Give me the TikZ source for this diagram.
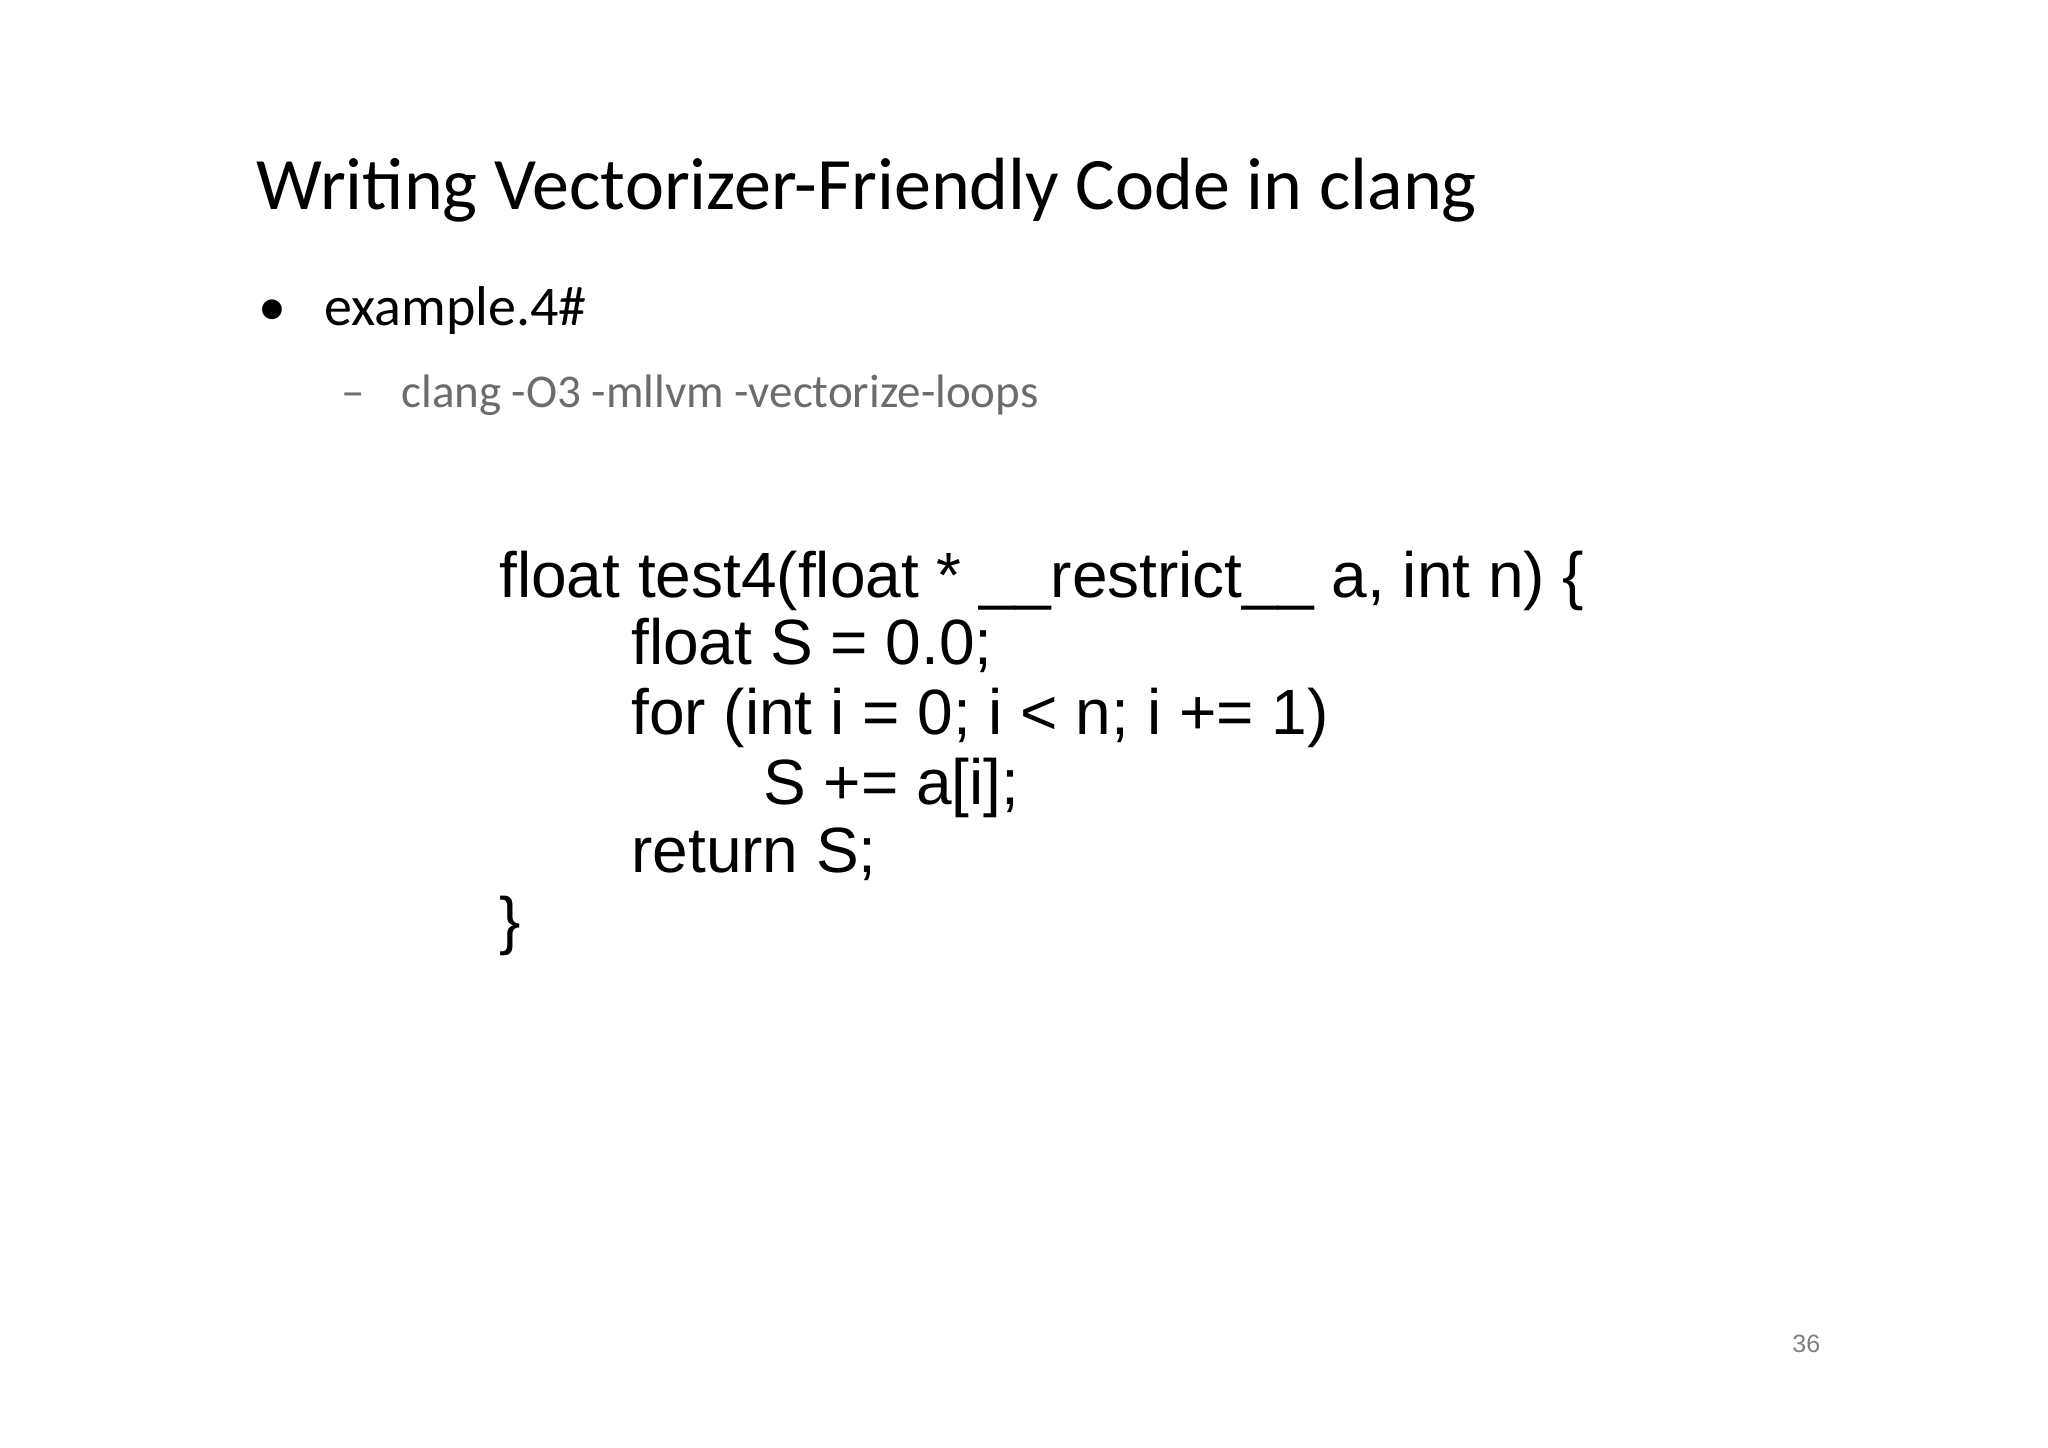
\documentclass[tikz,border=0pt]{standalone}
\usepackage{fontspec}
\setmainfont{Carlito}
\newfontfamily\codefont{Liberation Sans}
\begin{document}
\begin{tikzpicture}[x=0.5pt,y=-0.5pt,
  txt/.style={anchor=base west,inner sep=0pt},
  code/.style={txt,font=\codefont\fontsize{32}{38}\selectfont}]
\useasboundingbox[fill=white] (0,0) rectangle (2048,1447);
\node[txt,font=\fontsize{37}{44}\selectfont] (title) at (256,209) {Writing Vectorizer-Friendly Code in clang};
\node[txt,font=\fontsize{28}{34}\selectfont] (b1) at (258,325) {•};
\node[txt,font=\fontsize{28}{34}\selectfont] (ex) at (324,325) {example.4\#};
\node[txt,font=\fontsize{23.5}{28}\selectfont,text=gray!85!black] (d1) at (341,407) {–};
\node[txt,font=\fontsize{23.5}{28}\selectfont,text=gray!85!black] (cmd) at (401,407) {clang -O3 -mllvm -vectorize-loops};
\node[code] (l1) at (499,597) {float test4(float * \_\_restrict\_\_ a, int n) \{};
\node[code] (l2) at (631,664) {float S = 0.0;};
\node[code] (l3) at (631,734) {for (int i = 0; i < n; i += 1)};
\node[code] (l4) at (763,804) {S += a[i];};
\node[code] (l5) at (631,872) {return S;};
\node[code] (l6) at (499,942) {\}};
\node[txt,font=\codefont\fontsize{12.5}{15}\selectfont,text=gray] (pg) at (1792,1352) {36};
\end{tikzpicture}
\end{document}
